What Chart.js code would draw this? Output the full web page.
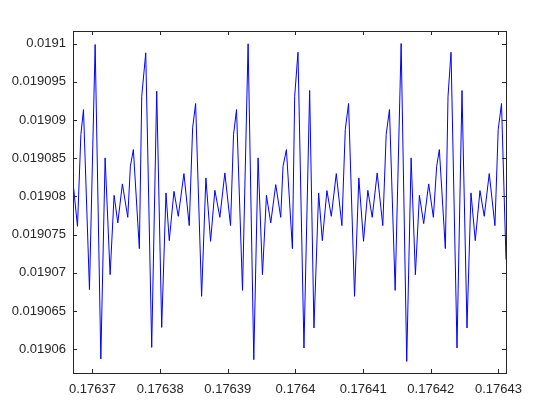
<!DOCTYPE html>
<html>
<head>
<meta charset="utf-8">
<script src="https://cdn.jsdelivr.net/npm/chart.js@4/dist/chart.umd.min.js"></script>
<style>
  html, body { margin: 0; padding: 0; background: #ffffff; }
  #wrap { width: 560px; height: 420px; }
</style>
</head>
<body>
<div id="wrap"><canvas id="c" width="560" height="420"></canvas></div>
<script>
// ---- data ----
const xs = [
  0.176367125, 0.176367789, 0.176368290, 0.176368673, 0.176369558, 0.176370398, 0.176371238,
  0.176371872, 0.176372610, 0.176373199, 0.176373745, 0.176374423, 0.176375219, 0.176375602,
  0.176376045, 0.176376929, 0.176377283, 0.176377873, 0.176378757, 0.176379494, 0.176380232,
  0.176380865, 0.176381352, 0.176382045, 0.176382679, 0.176383519, 0.176384301, 0.176384802,
  0.176385244, 0.176386129, 0.176386763, 0.176387456, 0.176388089, 0.176388827, 0.176389564,
  0.176390404, 0.176390846, 0.176391289, 0.176392173, 0.176392999, 0.176393839,
  0.176394473, 0.176395122, 0.176395711, 0.176396345, 0.176397083, 0.176397820, 0.176398159,
  0.176398660, 0.176399545, 0.176399884, 0.176400370, 0.176401255, 0.176402095, 0.176402729,
  0.176403422, 0.176403967, 0.176404646, 0.176405294, 0.176406031, 0.176406857, 0.176407358,
  0.176407845, 0.176408729, 0.176409363, 0.176410056, 0.176410690, 0.176411339, 0.176412076,
  0.176412902, 0.176413403, 0.176413889, 0.176414730, 0.176415614, 0.176416440,
  0.176417089, 0.176417722, 0.176418312, 0.176418946, 0.176419683, 0.176420376, 0.176420863,
  0.176421261, 0.176422145, 0.176422543, 0.176422986, 0.176423870, 0.176424607, 0.176425344,
  0.176425934, 0.176426568, 0.176427261, 0.176427895, 0.176428632, 0.176429472, 0.176429959,
  0.176430446, 0.176431109
];
const ys = [
  0.019081876, 0.019076093, 0.019088092, 0.019091364, 0.019067809, 0.019099869, 0.019058741,
  0.019085043, 0.019069772, 0.019080149, 0.019076537, 0.019081641, 0.019077270, 0.019083944,
  0.019086129, 0.019073175, 0.019093104, 0.019098783, 0.019060259, 0.019093758, 0.019062876,
  0.019080463, 0.019074221, 0.019080673, 0.019077401, 0.019082989, 0.019076184, 0.019088969,
  0.019092149, 0.019066933, 0.019082426, 0.019074130, 0.019080803, 0.019077270, 0.019083080,
  0.019076184, 0.019088092, 0.019091364, 0.019067718, 0.019099961, 0.019058650,
  0.019085043, 0.019069772, 0.019080149, 0.019076537, 0.019081549, 0.019077270, 0.019083944,
  0.019086129, 0.019073175, 0.019093104, 0.019098862, 0.019060180, 0.019093850, 0.019062797,
  0.019080463, 0.019074221, 0.019080764, 0.019077401, 0.019082989, 0.019076184, 0.019088746,
  0.019092149, 0.019066933, 0.019082426, 0.019074130, 0.019080803, 0.019077270, 0.019083080,
  0.019076184, 0.019088092, 0.019091364, 0.019067718, 0.0191, 0.019058427,
  0.019085043, 0.019069772, 0.019080149, 0.019076446, 0.019081641, 0.019077270, 0.019083944,
  0.019086129, 0.019073175, 0.019093104, 0.019098862, 0.019060180, 0.019093850, 0.019062797,
  0.019080463, 0.019074221, 0.019080764, 0.019077401, 0.019082989, 0.019076184, 0.019088746,
  0.019092149, 0.019071735
];
const xTicks = [0.17637, 0.17638, 0.17639, 0.17640, 0.17641, 0.17642, 0.17643];
const xTickLabels = ["0.17637", "0.17638", "0.17639", "0.1764", "0.17641", "0.17642", "0.17643"];
const yTicks = [0.01906, 0.019065, 0.01907, 0.019075, 0.01908, 0.019085, 0.01909, 0.019095, 0.0191];
const yTickLabels = ["0.01906", "0.019065", "0.01907", "0.019075", "0.01908", "0.019085", "0.01909", "0.019095", "0.0191"];
const yLimits = [0.019056912, 0.019101636];

// ---- chart ----
const AXIS_COLOR = '#262626';
const FONT = { family: "'Liberation Sans', Arial, Helvetica, sans-serif", size: 13 };

const boxPlugin = {
  id: 'matlabBox',
  afterDatasetsDraw(chart) {
    const { ctx, chartArea } = chart;
    const { left, right, top, bottom } = chartArea;
    const xS = chart.scales.x, yS = chart.scales.y;
    const tl = 4;
    ctx.save();
    ctx.strokeStyle = AXIS_COLOR;
    ctx.lineWidth = 1;
    ctx.beginPath();
    xTicks.forEach(v => {
      const p = Math.round(xS.getPixelForValue(v)) + 0.5;
      ctx.moveTo(p, bottom); ctx.lineTo(p, bottom - tl);
      ctx.moveTo(p, top); ctx.lineTo(p, top + tl);
    });
    yTicks.forEach(v => {
      const p = Math.round(yS.getPixelForValue(v)) + 0.5;
      ctx.moveTo(left, p); ctx.lineTo(left + tl, p);
      ctx.moveTo(right, p); ctx.lineTo(right - tl, p);
    });
    ctx.stroke();
    ctx.strokeRect(left + 0.5, top + 0.5, right - left, bottom - top);
    ctx.restore();
  }
};

new Chart(document.getElementById('c'), {
  type: 'scatter',
  data: {
    datasets: [{
      data: xs.map((x, i) => ({ x: x, y: ys[i] })),
      showLine: true,
      borderColor: '#0000ff',
      borderWidth: 1,
      pointRadius: 0,
      pointHoverRadius: 0,
      tension: 0,
      fill: false
    }]
  },
  options: {
    responsive: false,
    animation: false,
    events: [],
    layout: { padding: { top: 31, right: 54, left: 0, bottom: 0 } },
    plugins: { legend: { display: false }, tooltip: { enabled: false } },
    scales: {
      x: {
        type: 'linear',
        min: xs[0],
        max: xs[xs.length - 1],
        grid: { display: false, drawTicks: false },
        border: { display: false },
        afterBuildTicks: s => { s.ticks = xTicks.map(v => ({ value: v })); },
        afterFit: s => { s.height = 47; },
        ticks: {
          autoSkip: false, maxRotation: 0, minRotation: 0,
          padding: 9, color: AXIS_COLOR, font: FONT,
          callback: (v, i) => xTickLabels[i]
        }
      },
      y: {
        type: 'linear',
        min: yLimits[0],
        max: yLimits[1],
        grid: { display: false, drawTicks: false },
        border: { display: false },
        afterBuildTicks: s => { s.ticks = yTicks.map(v => ({ value: v })); },
        afterFit: s => { s.width = 73; },
        ticks: {
          autoSkip: false, padding: 7, color: AXIS_COLOR, font: FONT,
          callback: (v, i) => yTickLabels[i]
        }
      }
    }
  },
  plugins: [boxPlugin]
});
</script>
</body>
</html>
